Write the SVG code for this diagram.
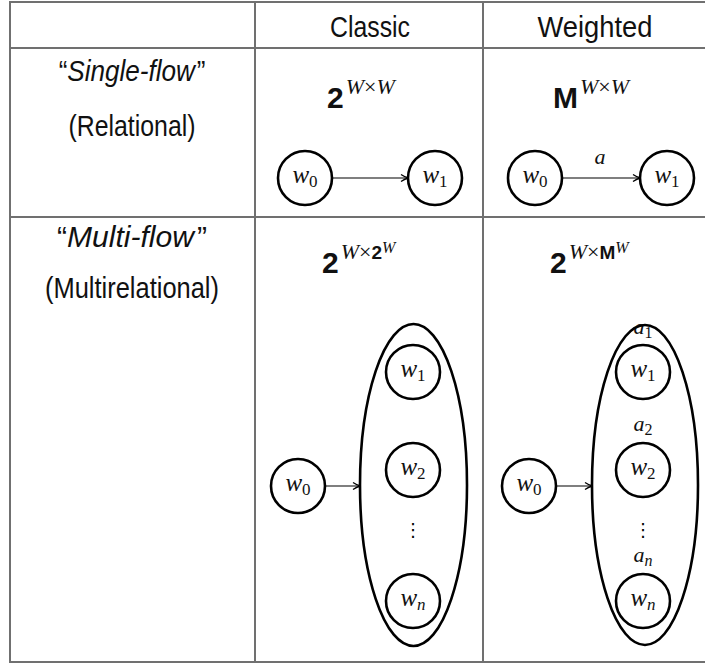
<svg xmlns="http://www.w3.org/2000/svg" width="705" height="666" viewBox="0 0 705 666">
<style>
.lbl{font-family:"Liberation Sans Narrow","Liberation Sans",Arial,sans-serif;font-size:30px;fill:#111}
.it{font-style:italic}
.math{font-family:"Liberation Serif","DejaVu Serif",serif;font-style:italic;fill:#111}
.up{font-style:normal}
.bold{font-family:"Liberation Sans",Arial,sans-serif;font-weight:bold;font-style:normal}
.node circle{fill:#fff;stroke:#000;stroke-width:2.6}
.grp{fill:none;stroke:#000;stroke-width:2.6}
.grid{stroke:#707070;stroke-width:2;fill:none}
.edge{stroke:#000;stroke-width:1.2;fill:none;marker-end:url(#arr)}
</style>
<defs>
<marker id="arr" viewBox="0 0 10 10" refX="9" refY="5" markerWidth="10" markerHeight="10" markerUnits="userSpaceOnUse" orient="auto">
<path d="M2,1.5 Q6,4.2 9.5,5 Q6,5.8 2,8.5" fill="none" stroke="#000" stroke-width="1.3"/>
</marker>
</defs>
<rect width="705" height="666" fill="#fff"/>
<g id="table">
<rect class="grid" x="10" y="2" width="700" height="660"/>
<line class="grid" x1="10" y1="48" x2="705" y2="48"/>
<line class="grid" x1="10" y1="217" x2="705" y2="217"/>
<line class="grid" x1="255" y1="2" x2="255" y2="662"/>
<line class="grid" x1="483" y1="2" x2="483" y2="662"/>
</g>
<g id="headers">
<text class="lbl" x="370" y="37" text-anchor="middle" textLength="80" lengthAdjust="spacingAndGlyphs">Classic</text>
<text class="lbl" x="595" y="37" text-anchor="middle" textLength="115" lengthAdjust="spacingAndGlyphs">Weighted</text>
<text class="lbl" transform="translate(132,81) scale(0.87,1)" x="0" y="0" text-anchor="middle">“<tspan class="it">Single-flow</tspan><tspan dx="2">”</tspan></text>
<text class="lbl" x="132" y="136" text-anchor="middle" textLength="127" lengthAdjust="spacingAndGlyphs">(Relational)</text>
<text class="lbl" x="132" y="247" text-anchor="middle" textLength="150" lengthAdjust="spacingAndGlyphs">“<tspan class="it">Multi-flow</tspan><tspan dx="3">”</tspan></text>
<text class="lbl" x="132" y="298" text-anchor="middle" textLength="174" lengthAdjust="spacingAndGlyphs">(Multirelational)</text>
</g>
<g id="formulas">
<text class="math" x="327" y="108" font-size="22"><tspan class="bold" font-size="30">2</tspan><tspan dx="2" dy="-14">W</tspan><tspan class="up">×</tspan>W</text>
<text class="math" x="553" y="108" font-size="22"><tspan class="bold" font-size="30">M</tspan><tspan dx="2" dy="-14">W</tspan><tspan class="up">×</tspan>W</text>
<text class="math" x="322" y="273" font-size="22"><tspan class="bold" font-size="30">2</tspan><tspan dx="2" dy="-14">W</tspan><tspan class="up">×</tspan><tspan class="bold" font-size="19">2</tspan><tspan dy="-6" font-size="16">W</tspan></text>
<text class="math" x="550" y="273" font-size="22"><tspan class="bold" font-size="30">2</tspan><tspan dx="2" dy="-14">W</tspan><tspan class="up">×</tspan><tspan class="bold" font-size="19">M</tspan><tspan dy="-6" font-size="16">W</tspan></text>
</g>
<g id="connectors">
<line class="edge" x1="332" y1="178" x2="408" y2="178"/>
<line class="edge" x1="562" y1="178" x2="640" y2="178"/>
<line class="edge" x1="325" y1="486" x2="360" y2="486"/>
<line class="edge" x1="556" y1="486" x2="592" y2="486"/>
</g>
<g id="edge-labels">
<text class="math" x="600" y="164" font-size="22" text-anchor="middle">a</text>
<text class="math" x="643" y="334" font-size="22" text-anchor="middle">a<tspan class="up" font-size="16" dy="4">1</tspan></text>
<text class="math" x="643" y="431" font-size="22" text-anchor="middle">a<tspan class="up" font-size="16" dy="4">2</tspan></text>
<text class="math" x="643" y="562" font-size="22" text-anchor="middle">a<tspan font-size="16" dy="4">n</tspan></text>
</g>
<g id="groups">
<ellipse id="set-classic" class="grp" cx="413.5" cy="485" rx="53.5" ry="161"/>
<ellipse id="set-weighted" class="grp" cx="645" cy="485" rx="53" ry="160"/>
</g>
<g id="n-c1-w0" class="node"><circle cx="305" cy="178" r="27"/><text class="math" x="305" y="183" font-size="25" text-anchor="middle">w<tspan class="up" font-size="17" dy="4">0</tspan></text></g>
<g id="n-c1-w1" class="node"><circle cx="435" cy="178" r="27"/><text class="math" x="435" y="183" font-size="25" text-anchor="middle">w<tspan class="up" font-size="17" dy="4">1</tspan></text></g>
<g id="n-w1-w0" class="node"><circle cx="535" cy="178" r="27"/><text class="math" x="535" y="183" font-size="25" text-anchor="middle">w<tspan class="up" font-size="17" dy="4">0</tspan></text></g>
<g id="n-w1-w1" class="node"><circle cx="667" cy="178" r="27"/><text class="math" x="667" y="183" font-size="25" text-anchor="middle">w<tspan class="up" font-size="17" dy="4">1</tspan></text></g>
<g id="n-c2-w0" class="node"><circle cx="298" cy="486" r="27"/><text class="math" x="298" y="491" font-size="25" text-anchor="middle">w<tspan class="up" font-size="17" dy="4">0</tspan></text></g>
<g id="n-c2-w1" class="node"><circle cx="413" cy="372" r="27"/><text class="math" x="413" y="377" font-size="25" text-anchor="middle">w<tspan class="up" font-size="17" dy="4">1</tspan></text></g>
<g id="n-c2-w2" class="node"><circle cx="413" cy="470" r="27"/><text class="math" x="413" y="475" font-size="25" text-anchor="middle">w<tspan class="up" font-size="17" dy="4">2</tspan></text></g>
<g id="n-c2-dots"><text x="413" y="536" font-family="DejaVu Sans,sans-serif" font-size="18" text-anchor="middle">⋮</text></g>
<g id="n-c2-wn" class="node"><circle cx="413" cy="601" r="27"/><text class="math" x="413" y="606" font-size="25" text-anchor="middle">w<tspan font-size="17" dy="4">n</tspan></text></g>
<g id="n-w2-w0" class="node"><circle cx="529" cy="486" r="27"/><text class="math" x="529" y="491" font-size="25" text-anchor="middle">w<tspan class="up" font-size="17" dy="4">0</tspan></text></g>
<g id="n-w2-w1" class="node"><circle cx="643" cy="372" r="27"/><text class="math" x="643" y="377" font-size="25" text-anchor="middle">w<tspan class="up" font-size="17" dy="4">1</tspan></text></g>
<g id="n-w2-w2" class="node"><circle cx="643" cy="470" r="27"/><text class="math" x="643" y="475" font-size="25" text-anchor="middle">w<tspan class="up" font-size="17" dy="4">2</tspan></text></g>
<g id="n-w2-dots"><text x="643" y="536" font-family="DejaVu Sans,sans-serif" font-size="18" text-anchor="middle">⋮</text></g>
<g id="n-w2-wn" class="node"><circle cx="643" cy="601" r="27"/><text class="math" x="643" y="606" font-size="25" text-anchor="middle">w<tspan font-size="17" dy="4">n</tspan></text></g>
</svg>
